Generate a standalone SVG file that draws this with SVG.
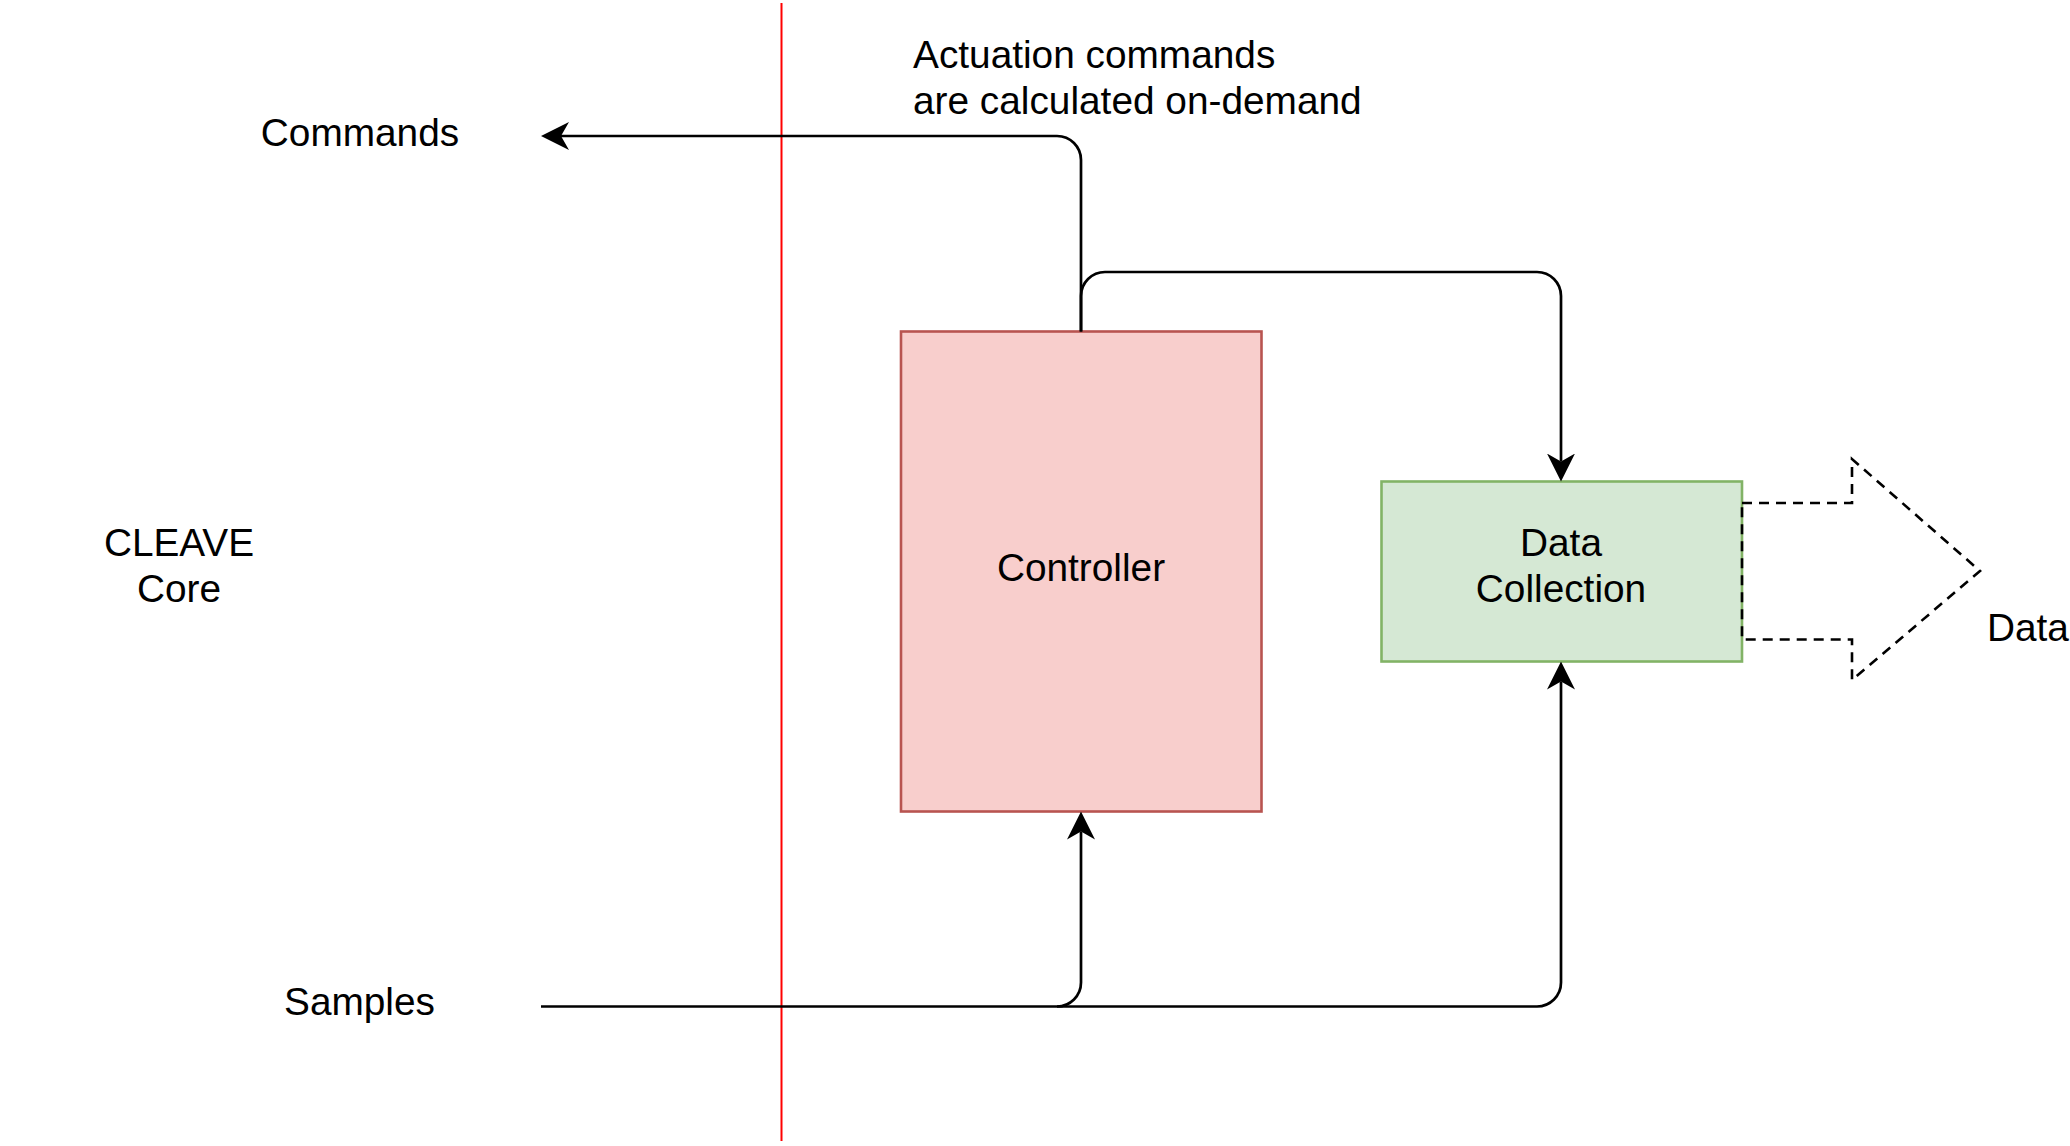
<svg xmlns="http://www.w3.org/2000/svg" width="2070" height="1146" viewBox="0 0 2070 1146">
<style>
.t{font-family:"Liberation Sans",Arial,Helvetica,sans-serif;font-size:38.8px;fill:#000}
.c{text-anchor:middle}
.edge{fill:none;stroke:#000;stroke-width:2.7}
</style>
<defs>
<marker id="arr" markerUnits="userSpaceOnUse" markerWidth="28" markerHeight="28" viewBox="0 0 28 28" refX="8" refY="14" orient="auto">
<path d="M0,0 L28,14 L0,28 L8,14 Z" fill="#000"/>
</marker>
</defs>
<rect width="2070" height="1146" fill="#fff"/>
<line id="divider" x1="781.5" y1="3" x2="781.5" y2="1141" stroke="#ff0000" stroke-width="2"/>
<g id="controller">
<rect x="901" y="331.5" width="360.5" height="480" fill="#f8cecc" stroke="#b85450" stroke-width="2.6"/>
<text class="t c" x="1081" y="581">Controller</text>
</g>
<g id="data-collection">
<rect x="1381.5" y="481.5" width="360.5" height="180" fill="#d5e8d4" stroke="#82b366" stroke-width="2.6"/>
<text class="t c" x="1561" y="555.5">Data</text>
<text class="t c" x="1561" y="602">Collection</text>
</g>
<g id="data-out">
<path d="M1742,503 H1852 V459 L1980,571 L1852,680 V639.5 H1742 Z" fill="none" stroke="#000" stroke-width="2.6" stroke-dasharray="10 7"/>
<text class="t" x="1987" y="640.5">Data</text>
</g>
<g id="labels">
<text class="t" x="913" y="67.5">Actuation commands</text>
<text class="t" x="913" y="114">are calculated on-demand</text>
<text class="t c" x="360" y="145.5">Commands</text>
<text class="t c" x="179" y="556">CLEAVE</text>
<text class="t c" x="179" y="602">Core</text>
<text class="t c" x="359.5" y="1015">Samples</text>
</g>
<g id="connectors">
<path class="edge" d="M1081,331.5 V160 A24,24 0 0 0 1057,136 H561" marker-end="url(#arr)"/>
<path class="edge" d="M1081,331.5 V296 A24,24 0 0 1 1105,272 H1537 A24,24 0 0 1 1561,296 V461.5" marker-end="url(#arr)"/>
<path class="edge" d="M541,1006.5 H1057 A24,24 0 0 0 1081,982.5 V831.5" marker-end="url(#arr)"/>
<path class="edge" d="M1057,1006.5 H1537 A24,24 0 0 0 1561,982.5 V681.5" marker-end="url(#arr)"/>
</g>
</svg>
